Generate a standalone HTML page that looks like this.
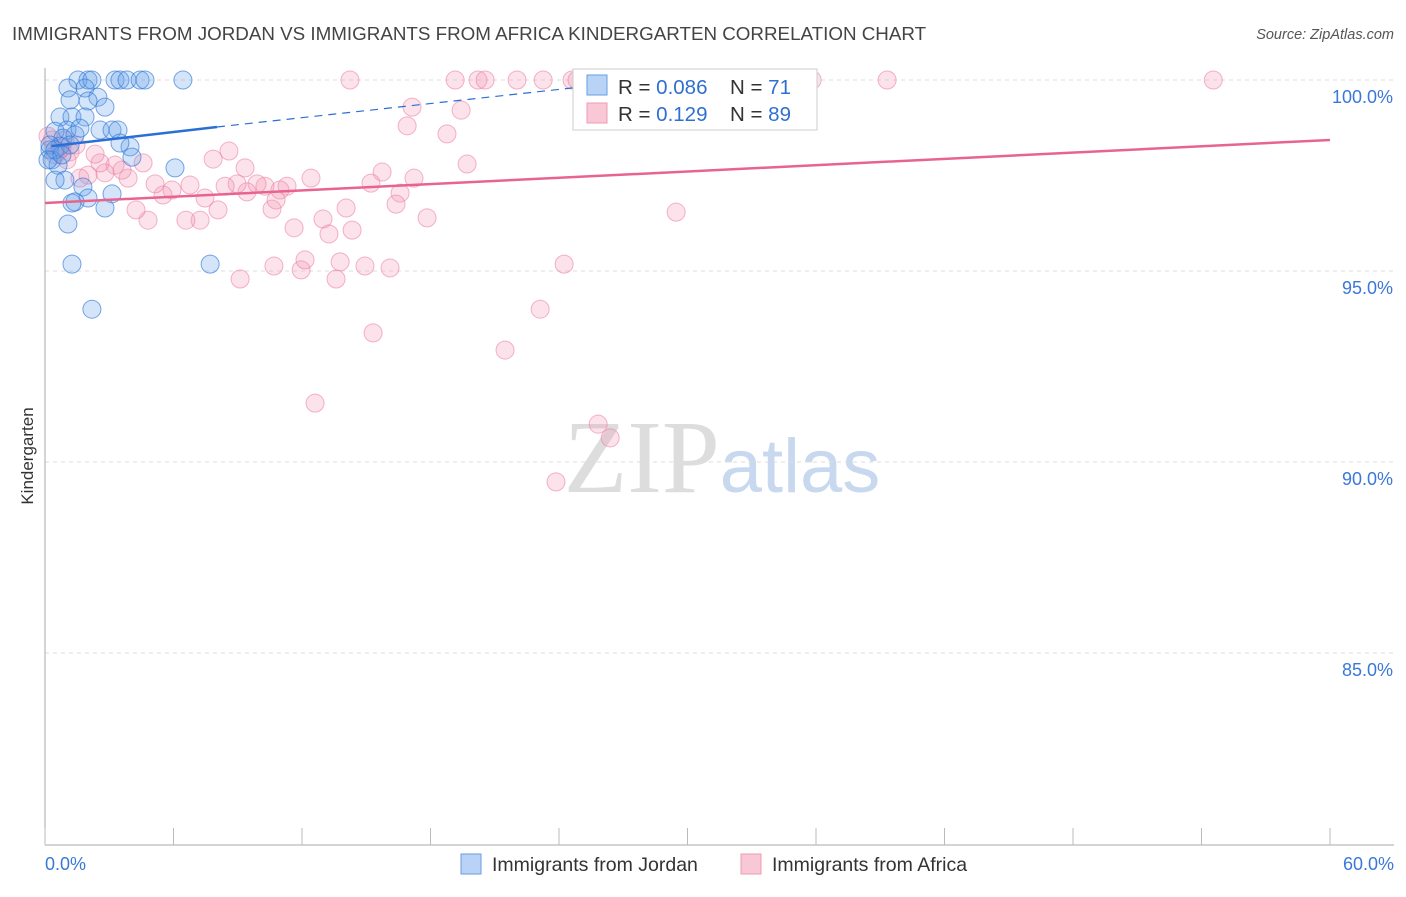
<!DOCTYPE html>
<html><head><meta charset="utf-8"><style>
body{margin:0;background:#fff;font-family:"Liberation Sans",sans-serif;}
svg text{font-family:"Liberation Sans",sans-serif;}
</style></head><body>
<svg id="chart" width="1406" height="892" viewBox="0 0 1406 892" xmlns="http://www.w3.org/2000/svg">
<text x="12" y="40" font-size="18.8" fill="#444">IMMIGRANTS FROM JORDAN VS IMMIGRANTS FROM AFRICA KINDERGARTEN CORRELATION CHART</text>
<text x="1394" y="39" font-size="14.5" fill="#555" text-anchor="end" font-style="italic">Source: ZipAtlas.com</text>
<text x="722" y="492" font-size="104" text-anchor="middle"><tspan fill="#ddd" font-family="Liberation Serif">ZIP</tspan><tspan fill="#c7d8ef" font-size="76">atlas</tspan></text>
<text transform="translate(33,456) rotate(-90)" font-size="17" fill="#333" text-anchor="middle">Kindergarten</text>
<g id="grid"></g><g id="axes"></g><g id="pink"></g><g id="blue"></g><g id="lines"></g>
<g>
<rect x="573" y="69" width="244" height="61" fill="#fff" stroke="#ccc"/>
<rect x="587" y="75" width="20" height="20" fill="#b8d3f5" stroke="#6a9ee0"/>
<rect x="587" y="103" width="20" height="20" fill="#f9c8d6" stroke="#f09ab5"/>
<text x="618" y="94" font-size="20.5" fill="#333">R = <tspan fill="#2f6fd0">0.086</tspan></text>
<text x="730" y="94" font-size="20.5" fill="#333">N = <tspan fill="#2f6fd0"> 71</tspan></text>
<text x="618" y="121" font-size="20.5" fill="#333">R = <tspan fill="#2f6fd0"> 0.129</tspan></text>
<text x="730" y="121" font-size="20.5" fill="#333">N = <tspan fill="#2f6fd0">89</tspan></text>
</g>
<g>
<rect x="461" y="854" width="20" height="20" fill="#b8d3f5" stroke="#6a9ee0"/>
<text x="492" y="871" font-size="19.5" fill="#333">Immigrants from Jordan</text>
<rect x="741" y="854" width="20" height="20" fill="#f9c8d6" stroke="#f09ab5"/>
<text x="772" y="871" font-size="19.5" fill="#333">Immigrants from Africa</text>
</g>
</svg>
<script>
const yTicks=[100,95,90,85];
const xTickLabels=["0.0%","60.0%"];
const blueX=[1.54,2.01,2.19,3.27,3.50,3.83,4.44,4.67,6.44,1.07,1.87,2.47,1.17,2.01,2.80,0.70,1.26,1.87,1.03,0.47,0.84,1.40,2.57,3.13,3.41,0.70,0.23,0.33,0.61,0.93,0.47,1.77,3.13,2.01,1.40,1.26,2.80,1.07,3.97,4.06,3.50,6.07,7.71,1.26,2.19,0.23,0.47,0.14,1.17,0.79,1.63];
const blueY=[100,100,100,100,100,100,100,100,100,99.79,99.79,99.55,99.48,99.45,99.29,99.03,99.03,99.03,98.69,98.66,98.48,98.56,98.69,98.69,98.69,98.27,98.17,97.91,97.77,97.38,97.38,97.20,97.02,96.91,96.81,96.78,96.65,96.23,98.25,97.98,98.35,97.70,95.18,95.18,94.00,98.30,98.17,97.91,98.30,98.04,98.74];
const pinkX=[14.24,19.15,20.22,20.55,22.04,23.26,24.61,24.84,30.59,33.25,35.82,39.32,54.55,17.14,16.91,19.43,18.77,19.71,15.74,15.22,17.23,16.58,16.39,17.84,14.34,14.06,12.98,13.26,12.42,11.30,11.63,10.97,10.60,10.79,10.27,9.90,9.43,8.97,8.41,9.34,8.59,7.85,7.47,8.08,7.24,6.58,6.77,5.93,5.51,5.14,4.81,4.25,4.58,3.88,3.60,3.27,2.80,2.57,2.34,2.01,1.63,1.17,1.03,0.47,0.33,0.14,1.45,0.93,10.69,11.96,12.14,13.59,13.78,14.94,16.11,9.11,24.24,29.47,23.12,21.48,15.32,12.61,25.83,26.39,23.86,0.79,0.61];
const pinkY=[100,100,100,100,100,100,100,100,100,100,100,100,100,99.29,98.80,99.21,98.59,97.80,97.59,97.30,97.43,97.04,96.75,96.39,96.07,96.65,96.36,95.97,97.43,97.22,96.13,97.12,96.62,96.86,97.22,97.28,97.07,97.28,97.22,97.70,98.14,97.93,96.91,96.60,96.33,96.33,97.25,97.12,96.99,97.28,96.33,96.60,97.83,97.43,97.64,97.77,97.57,97.83,98.06,97.51,97.43,98.12,97.91,98.04,98.43,98.53,98.30,98.43,95.13,95.03,95.29,94.79,95.24,95.13,95.08,94.79,95.18,96.54,94.00,92.93,93.38,91.54,90.99,90.63,89.48,98.22,98.12];
const blueTrend=[[0.3,98.27],[8.03,98.77],[28,100]];
const pinkTrend=[[0,96.78],[60,98.43]];
const NS="http://www.w3.org/2000/svg";
const sx=v=>45+v/60*1285;
const sy=v=>80+(100-v)/5*191;
function mk(tag,attrs,parent){const e=document.createElementNS(NS,tag);for(const k in attrs)e.setAttribute(k,attrs[k]);document.getElementById(parent).appendChild(e);return e;}
yTicks.forEach(t=>{
 const l=mk('line',{x1:45,x2:1394,y1:sy(t),y2:sy(t),stroke:'#ddd','stroke-dasharray':'4,4'},'grid');
 
 
 const tx=mk('text',{x:1393,y:sy(t)+23,'font-size':18,fill:'#3a78d8','text-anchor':'end'},'grid');
 tx.textContent=t.toFixed(1)+'%';
 
 
});
const ax=mk('line',{x1:45,x2:45,y1:68,y2:845,stroke:'#aaa'},'axes');


const bx=mk('line',{x1:45,x2:1394,y1:845,y2:845,stroke:'#aaa'},'axes');


for(let i=0;i<=10;i++){const t=mk('line',{x1:sx(i*6),x2:sx(i*6),y1:828,y2:845,stroke:'#bbb'},'axes');
 
 }
[[0,'start',45],[60,'end',1394]].forEach((d,i)=>{const t=mk('text',{x:d[2],y:870,'font-size':18,fill:'#3a78d8','text-anchor':d[1]},'axes');t.textContent=xTickLabels[i];
 
 });
pinkX.forEach((x,i)=>{const c=mk('circle',{cx:sx(x),cy:sy(pinkY[i]),r:9,fill:'rgba(244,150,180,0.28)',stroke:'rgba(235,120,160,0.55)','stroke-width':1},'pink');
 
 });
blueX.forEach((x,i)=>{const c=mk('circle',{cx:sx(x),cy:sy(blueY[i]),r:9,fill:'rgba(100,160,235,0.28)',stroke:'rgba(50,120,215,0.65)','stroke-width':1},'blue');
 
 });
const pl=mk('line',{x1:sx(pinkTrend[0][0]),y1:sy(pinkTrend[0][1]),x2:sx(pinkTrend[1][0]),y2:sy(pinkTrend[1][1]),stroke:'#e8648e','stroke-width':2.5},'lines');


const bl=mk('line',{x1:sx(blueTrend[0][0]),y1:sy(blueTrend[0][1]),x2:sx(blueTrend[1][0]),y2:sy(blueTrend[1][1]),stroke:'#2a6fd6','stroke-width':2.5},'lines');


const bd=mk('line',{x1:sx(blueTrend[1][0]),y1:sy(blueTrend[1][1]),x2:sx(blueTrend[2][0]),y2:sy(blueTrend[2][1]),stroke:'#2a6fd6','stroke-width':1.2,'stroke-dasharray':'8,6'},'lines');


</script>
</body></html>
